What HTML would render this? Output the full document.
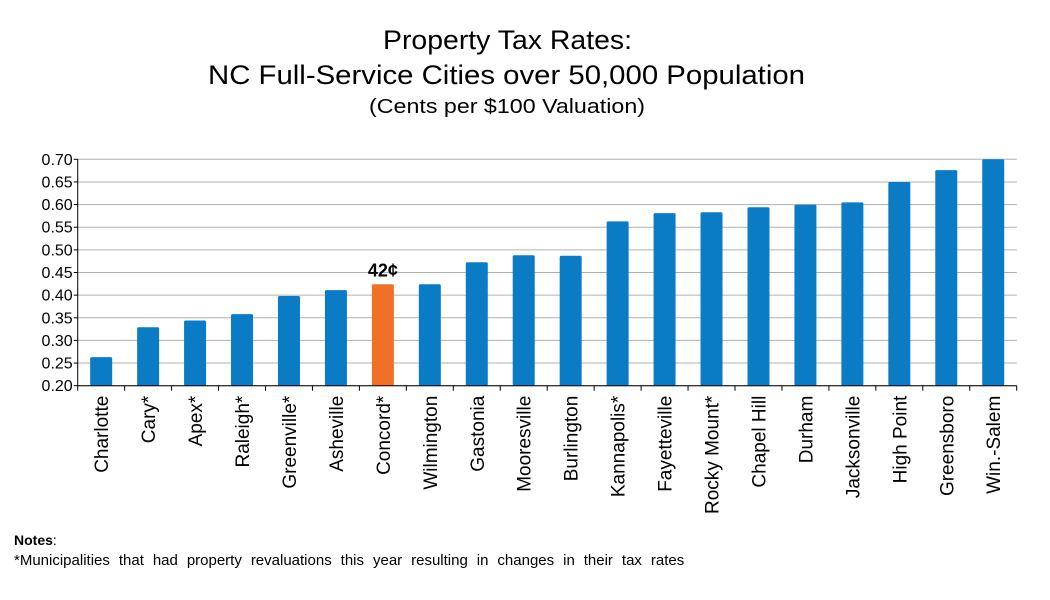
<!DOCTYPE html>
<html><head><meta charset="utf-8"><style>
body{margin:0;background:#fff;}
svg{display:block;font-family:"Liberation Sans",Arial,sans-serif;}
</style></head><body>
<svg id="chart" width="1050" height="600">
<g>
<text x="383" y="49" textLength="249" lengthAdjust="spacingAndGlyphs" font-size="27" fill="#000">Property Tax Rates:</text>
<text x="208" y="84" textLength="597" lengthAdjust="spacingAndGlyphs" font-size="27" fill="#000">NC Full-Service Cities over 50,000 Population</text>
<text x="369" y="113" textLength="276" lengthAdjust="spacingAndGlyphs" font-size="20" fill="#000">(Cents per $100 Valuation)</text>
</g>
<g id="grid"></g><g id="bars"></g><g id="axes"></g>
<text x="14" y="545" font-size="14" fill="#000"><tspan font-weight="bold">Notes</tspan>:</text>
<text x="14" y="565" font-size="15" word-spacing="4.8" fill="#000">*Municipalities that had property revaluations this year resulting in changes in their tax rates</text>
</svg>
<script>
const categories=["Charlotte","Cary*","Apex*","Raleigh*","Greenville*","Asheville","Concord*","Wilmington","Gastonia","Mooresville","Burlington","Kannapolis*","Fayetteville","Rocky Mount*","Chapel Hill","Durham","Jacksonville","High Point","Greensboro","Win.-Salem"];
const values=[0.263,0.329,0.344,0.358,0.398,0.411,0.424,0.424,0.4725,0.488,0.487,0.563,0.581,0.583,0.594,0.60,0.605,0.65,0.676,0.70];
const highlight=["Concord*"];
const highlightLabels=["42¢"];
const yTicks=[0.20,0.25,0.30,0.35,0.40,0.45,0.50,0.55,0.60,0.65,0.70];
const NS="http://www.w3.org/2000/svg";
const X0=77.7,X1=1016.7,Y0=385.7,Y1=159.3,ymin=0.2,ymax=0.7;
const slot=(X1-X0)/categories.length;
function y(v){return Y0-(v-ymin)/(ymax-ymin)*(Y0-Y1);}
function xc(i){return X0+slot*(i+0.5);}
function mk(tag,attrs,parent){const e=document.createElementNS(NS,tag);for(const k in attrs)e.setAttribute(k,attrs[k]);parent.appendChild(e);return e;}
const grid=document.getElementById('grid'),bars=document.getElementById('bars'),axes=document.getElementById('axes');
yTicks.forEach(t=>{
  const l=mk('line',{x1:X0,x2:X1,y1:y(t),y2:y(t),stroke:'#b0b0b0','stroke-width':1},grid);
  
  
  const tx=mk('text',{x:X0-5,y:y(t)+5.5,'text-anchor':'end','font-size':16,fill:'#000'},axes);
  tx.textContent=t.toFixed(2);
  
  
  const tk=mk('line',{x1:X0-4,x2:X0,y1:y(t),y2:y(t),stroke:'#000'},axes);
  
  
});
const ya=mk('line',{x1:X0,x2:X0,y1:Y1,y2:Y0,stroke:'#000'},axes);


const xa=mk('line',{x1:X0,x2:X1,y1:Y0,y2:Y0,stroke:'#000'},axes);


const bw=22;
categories.forEach((c,i)=>{
  const hi=highlight.indexOf(c);
  const top=y(values[i]);
  const r=mk('rect',{x:xc(i)-bw/2,y:top,width:bw,height:Y0-top,fill:hi>=0?'#f07028':'#0a7cc6',rx:1.5},bars);
  
  
  if(hi>=0){
    const lb=mk('text',{x:xc(i),y:top-8,'text-anchor':'middle','font-size':18,'font-weight':'bold',fill:'#000'},bars);
    lb.textContent=highlightLabels[hi];
    
    
  }
  const tk=mk('line',{x1:X0+slot*i,x2:X0+slot*i,y1:Y0,y2:Y0+5,stroke:'#000'},axes);
  
  
  const tx=mk('text',{x:0,y:0,'text-anchor':'end','font-size':19,fill:'#000',transform:`translate(${xc(i)+7},${Y0+10}) rotate(-90)`},axes);
  tx.textContent=c;
  
  
});
const te=mk('line',{x1:X1,x2:X1,y1:Y0,y2:Y0+5,stroke:'#000'},axes);


</script>
</body></html>
